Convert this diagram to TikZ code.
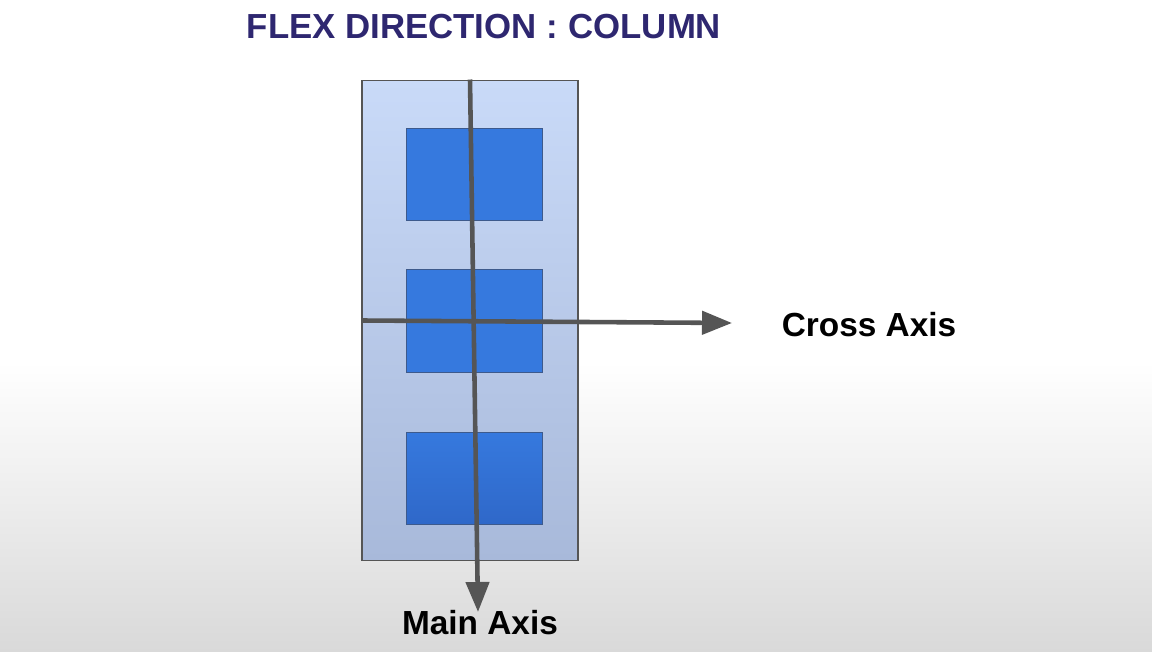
\documentclass[tikz,border=0pt]{standalone}
\usepackage{fontspec}
\setmainfont{Liberation Sans}
\usetikzlibrary{arrows.meta,positioning}
\definecolor{fdTitle}{HTML}{2e2770}
\definecolor{fdAxis}{HTML}{555555}
\definecolor{fdPaleTop}{HTML}{c9daf8}
\definecolor{fdPaleMid}{HTML}{c7d8f6}
\definecolor{fdPaleBot}{HTML}{a8b9da}
\definecolor{fdItem}{HTML}{3679de}
\definecolor{fdItemDk}{HTML}{2f68c9}
\definecolor{fdEdge}{HTML}{3d5a8c}
\definecolor{fdFloor}{HTML}{d9d9d9}
\tikzset{
  >={Triangle[length=0.6cm, width=0.46cm]},
  container/.style={draw=fdAxis, line width=0.6pt, top color=fdPaleTop,
              middle color=fdPaleMid, bottom color=fdPaleBot,
              minimum width=4.32cm, minimum height=9.62cm, inner sep=0pt},
  item/.style={draw=fdEdge, line width=0.5pt, fill=fdItem,
              minimum width=2.72cm, minimum height=1.84cm, inner sep=0pt},
  axislbl/.style={font=\bfseries\fontsize{19}{22}\selectfont, text=black},
  axis/.style={->, draw=fdAxis, line width=2.6pt},
}

\begin{document}
\begin{tikzpicture}[x=0.02cm, y=0.02cm]
    % background
    \useasboundingbox (0,0) rectangle (1152,652);
    \fill[white] (0,0) rectangle (1152,652);
    \fill[top color=white, bottom color=fdFloor] (0,0) rectangle (1152,290);
    % title
    \node[font=\bfseries\fontsize{19.8}{24}\selectfont, text=fdTitle] (title) at (484,625)
      {FLEX DIRECTION :\hspace{0.3em}COLUMN};
    % flex container and items
    \node[container] (cont) at (470,331.5) {};
    \node[item] (b1) at (474,478) {};
    \node[item, minimum height=2.06cm] (b2) at (474,331) {};
    \node[item, top color=fdItem, bottom color=fdItemDk] (b3) at (474,174) {};
    % labels
    \node[axislbl] (cross) at (869,327) {Cross Axis};
    \node[axislbl] (main) at (480,29) {Main Axis};
    \coordinate (crossend) at (732,329);
    \coordinate (mainend) at (478,40);
    % axes
    \draw[axis] (cont.north) -- (mainend);
    \draw[axis] (cont.west) -- (crossend);
\end{tikzpicture}
\end{document}
